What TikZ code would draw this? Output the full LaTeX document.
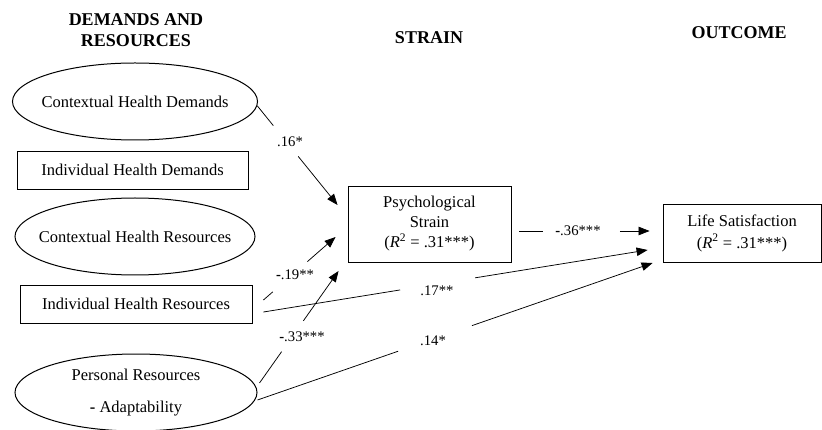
\documentclass[tikz,border=0pt]{standalone}
\usepackage{fontspec}
\setmainfont{Liberation Serif}
\usetikzlibrary{shapes.geometric,arrows.meta,calc}
\begin{document}
\begin{tikzpicture}[x=1pt,y=-1pt,
  base/.style={font=\fontsize{16.5}{20}\selectfont},
  hdr/.style={font=\fontsize{18}{20.5}\selectfont\bfseries, align=center, inner sep=0},
  oval/.style={draw, line width=1pt, ellipse, inner sep=0},
  box/.style={draw, line width=0.9pt, inner sep=0, align=center, base},
  lbl/.style={font=\fontsize{14.7}{16}\selectfont, inner sep=0},
  conn/.style={line width=0.75pt},
  arr/.style={conn, -{Triangle[length=11pt,width=8.5pt]}}
]
\useasboundingbox (0,0) rectangle (822,430);

% headers
\node[hdr] (h1) at (136,30) {DEMANDS AND\\RESOURCES};
\node[hdr] (h2) at (429,38) {STRAIN};
\node[hdr] (h3) at (739,33) {OUTCOME};

% left column
\node[oval, minimum width=245, minimum height=77,
      label={[base]center:Contextual Health Demands}] (c1) at (135,101.5) {};
\node[box, minimum width=231, minimum height=38] (ihd) at (132.5,170) {Individual Health Demands};
\node[oval, minimum width=240, minimum height=77,
      label={[base]center:Contextual Health Resources}] (c2) at (135,236.5) {};
\node[box, minimum width=232, minimum height=38] (ihr) at (136,304) {Individual Health Resources};
\node[oval, minimum width=242, minimum height=77,
      label={[align=center,font=\fontsize{16.5}{32}\selectfont]center:{Personal Resources\\\textbf{-} Adaptability}}] (pr) at (136,392.5) {};

% middle and right
\node[box, minimum width=163, minimum height=76] (ps) at (429.5,224)
  {Psychological\\Strain\\(\textit{R}\textsuperscript{2} = .31***)};
\node[box, minimum width=158, minimum height=58, font=\fontsize{16.5}{22}\selectfont] (ls) at (742,233)
  {Life Satisfaction\\(\textit{R}\textsuperscript{2} = .31***)};

% connector 1: c1 -> ps
\coordinate (s1) at (c1.-2);
\coordinate (t1) at ($(ps.west)+(-10,-19)$);
\draw[conn] (s1) -- ($(s1)!0.2!(t1)$);
\draw[arr] ($(s1)!0.51!(t1)$) -- (t1);
\node[lbl] (l1) at (290,142) {.16*};

% connector 2: ihr -> ps
\coordinate (s2) at ($(ihr.east)+(11,-4)$);
\coordinate (t2) at ($(ps.west)+(-12,13)$);
\draw[conn] (s2) -- ($(s2)!0.13!(t2)$);
\draw[arr] ($(s2)!0.61!(t2)$) -- (t2);
\node[lbl] (l2) at (295,275) {\textbf{-}.19**};

% connector 3: pr -> ps
\coordinate (s3) at ($(pr.east)+(2,-9.5)$);
\coordinate (t3) at ($(ps.west)+(-9,47)$);
\draw[conn] (s3) -- ($(s3)!0.28!(t3)$);
\draw[arr] ($(s3)!0.555!(t3)$) -- (t3);
\node[lbl] (l3) at (302,337) {\textbf{-}.33***};

% connector 4: ihr -> ls
\coordinate (s4) at ($(ihr.east)+(11,8)$);
\coordinate (t4) at ($(ls.west)+(-15,17)$);
\draw[conn] (s4) -- ($(s4)!0.356!(t4)$);
\draw[arr] ($(s4)!0.551!(t4)$) -- (t4);
\node[lbl] (l4) at (437,291) {.17**};

% connector 5: pr -> ls
\coordinate (s5) at ($(pr.east)+(0,7.5)$);
\coordinate (t5) at ($(ls.west)+(-10,30)$);
\draw[conn] (s5) -- ($(s5)!0.356!(t5)$);
\draw[arr] ($(s5)!0.543!(t5)$) -- (t5);
\node[lbl] (l5) at (433,341) {.14*};

% connector 6: ps -> ls
\coordinate (s6) at ($(ps.east)+(8,7)$);
\coordinate (t6) at ($(ls.west)+(-13,-2)$);
\draw[conn] (s6) -- ($(s6)!0.183!(t6)$);
\draw[arr] ($(s6)!0.771!(t6)$) -- (t6);
\node[lbl] (l6) at (578,231) {\textbf{-}.36***};
\end{tikzpicture}
\end{document}
